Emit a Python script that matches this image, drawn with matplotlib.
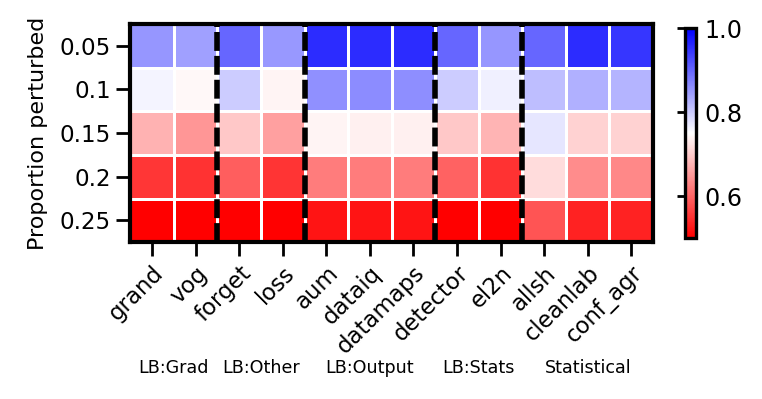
import numpy as np
import matplotlib
matplotlib.use('Agg')
import matplotlib.pyplot as plt

# rows: proportion perturbed, cols: methods
props = ['0.05', '0.1', '0.15', '0.2', '0.25']
methods = ['grand', 'vog', 'forget', 'loss', 'aum', 'dataiq', 'datamaps',
           'detector', 'el2n', 'allsh', 'cleanlab', 'conf_agr']
groups = ['LB:Grad', 'LB:Other', 'LB:Output', 'LB:Stats', 'Statistical']
group_sizes = [2, 2, 3, 2, 3]

row_005 = [0.853, 0.843, 0.900, 0.850, 0.956, 0.956, 0.956, 0.900, 0.853, 0.900, 0.956, 0.946]
row_010 = [0.760, 0.743, 0.799, 0.740, 0.858, 0.862, 0.860, 0.800, 0.765, 0.814, 0.828, 0.824]
row_015 = [0.675, 0.647, 0.696, 0.657, 0.740, 0.735, 0.735, 0.696, 0.676, 0.775, 0.706, 0.706]
row_020 = [0.554, 0.550, 0.593, 0.551, 0.623, 0.623, 0.623, 0.596, 0.550, 0.716, 0.637, 0.633]
row_025 = [0.495, 0.495, 0.495, 0.495, 0.520, 0.520, 0.520, 0.495, 0.495, 0.583, 0.534, 0.534]

data = np.array([row_005, row_010, row_015, row_020, row_025])

#---------------------------------- plot ----------------------------------#
fig = plt.figure(figsize=(3.81, 1.995), dpi=200)
ax = fig.add_axes([0.171, 0.393, 0.686, 0.547])
cax = fig.add_axes([0.899, 0.4035, 0.014, 0.526])

mesh = ax.pcolormesh(data, cmap='bwr_r', vmin=0.5, vmax=1.0,
                     edgecolors='white', linewidth=0.4)
ax.set_xlim(0, len(methods))
ax.set_ylim(len(props), 0)

ax.set_xticks(np.arange(len(methods)) + 0.5)
ax.set_xticklabels(methods, rotation=45, ha='right', rotation_mode='anchor', fontsize=8.2)
ax.set_yticks(np.arange(len(props)) + 0.5)
ax.set_yticklabels(props, fontsize=8.3)
ax.set_ylabel('Proportion perturbed', fontsize=8)
ax.tick_params(length=5, width=1, pad=2)
for s in ax.spines.values():
    s.set_linewidth(1.5)

# group separators
bounds = np.cumsum(group_sizes)[:-1]
for b in bounds:
    ax.axvline(b, color='black', linestyle=(0, (3.4, 0.9)), linewidth=2)

# group labels
starts = np.concatenate([[0], np.cumsum(group_sizes)[:-1]])
for g, st, n in zip(groups, starts, group_sizes):
    ax.text(st + n / 2, -0.578, g, transform=ax.get_xaxis_transform(),
            ha='center', va='center', fontsize=6.3)

cb = fig.colorbar(mesh, cax=cax, ticks=[0.6, 0.8, 1.0])
cb.ax.tick_params(labelsize=8.6, length=3, width=1, left=True, right=False,
                  labelleft=False, labelright=True, pad=0)
cb.outline.set_linewidth(1.2)

plt.savefig('out.png', dpi=200)
plt.close('all')
